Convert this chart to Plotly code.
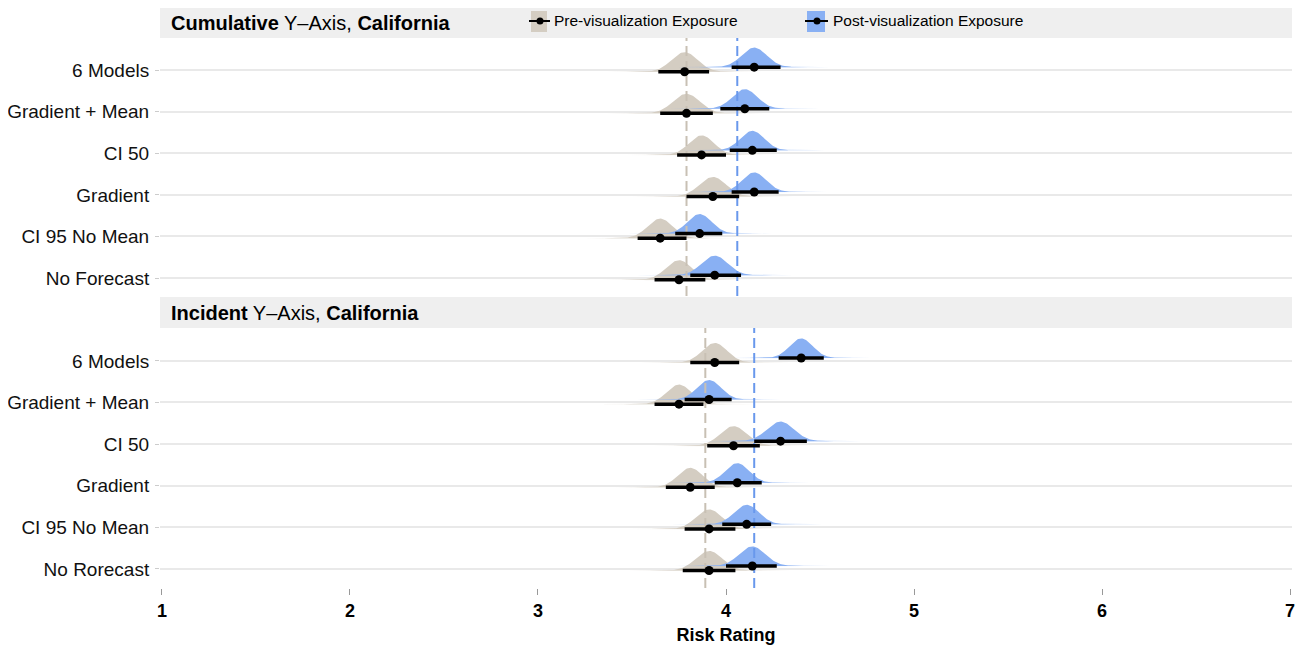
import numpy as np
import plotly.graph_objects as go
from plotly.subplots import make_subplots

# ---------------- data ----------------
conditions_cum = ["6 Models", "Gradient + Mean", "CI 50", "Gradient", "CI 95 No Mean", "No Forecast"]
conditions_inc = ["6 Models", "Gradient + Mean", "CI 50", "Gradient", "CI 95 No Mean", "No Rorecast"]

cum_pre_mean = [3.78, 3.79, 3.87, 3.93, 3.65, 3.75]
cum_pre_lo = [3.64, 3.65, 3.74, 3.79, 3.53, 3.62]
cum_pre_hi = [3.91, 3.93, 4.00, 4.07, 3.79, 3.89]
cum_post_mean = [4.15, 4.10, 4.14, 4.15, 3.86, 3.94]
cum_post_lo = [4.03, 3.97, 4.02, 4.03, 3.73, 3.81]
cum_post_hi = [4.29, 4.23, 4.27, 4.28, 3.98, 4.08]

inc_pre_mean = [3.94, 3.75, 4.04, 3.81, 3.91, 3.91]
inc_pre_lo = [3.81, 3.62, 3.90, 3.68, 3.78, 3.77]
inc_pre_hi = [4.07, 3.88, 4.18, 3.94, 4.05, 4.05]
inc_post_mean = [4.40, 3.91, 4.29, 4.06, 4.11, 4.14]
inc_post_lo = [4.28, 3.78, 4.15, 3.94, 3.98, 4.00]
inc_post_hi = [4.52, 4.03, 4.43, 4.19, 4.24, 4.27]

cum_pre_ref, cum_post_ref = 3.79, 4.06
inc_pre_ref, inc_post_ref = 3.89, 4.15

x_ticks = [1, 2, 3, 4, 5, 6, 7]
groups = ["Pre-visualization Exposure", "Post-visualization Exposure"]

# ---------------- styling ----------------
FONT = "Liberation Sans, Arial, Helvetica, sans-serif"
PRE_FILL = "rgb(212,205,194)"
POST_FILL = "rgb(137,176,243)"
PRE_REF = "rgb(200,192,180)"
POST_REF = "rgb(105,152,236)"
STRIP = "#efefef"
GRID = "#e9e9e9"

OFF = 8  # page body margin offset
W, H = 1300, 642
ML, MR, MT = 152, 16, 0
MB = H - (588 - OFF)
PW, PH = W - ML - MR, H - MT - MB


def px_x(px):
    return (px - OFF - ML) / PW


def px_y(py):
    return (H - MB - (py - OFF)) / PH


fig = make_subplots(rows=2, cols=1, shared_xaxes=True, vertical_spacing=0.0)

panels = [
    (1, conditions_cum, cum_pre_mean, cum_pre_lo, cum_pre_hi,
     cum_post_mean, cum_post_lo, cum_post_hi, cum_pre_ref, cum_post_ref, [0.57, 6.77]),
    (2, conditions_inc, inc_pre_mean, inc_pre_lo, inc_pre_hi,
     inc_post_mean, inc_post_lo, inc_post_hi, inc_pre_ref, inc_post_ref, [0.54, 6.79]),
]

SLAB_H = 0.47
DODGE = {"pre": -0.04, "post": 0.07}

for (row, cats, pm, plo, phi, qm, qlo, qhi, pref, qref, yr) in panels:
    n = len(cats)
    ypos = [n - i for i in range(n)]
    # slabs
    for key, means, los, his, col in [("pre", pm, plo, phi, PRE_FILL), ("post", qm, qlo, qhi, POST_FILL)]:
        for yb, m, lo, hi in zip(ypos, means, los, his):
            sd = (hi - lo) / 3.92
            xs = np.linspace(m - 4.5 * sd, m + 4.5 * sd, 120)
            dens = np.exp(-0.5 * ((xs - m) / sd) ** 2)
            base = yb + DODGE[key]
            # faint halo (fading tails)
            xh = np.linspace(m - 6 * sd, m + 6 * sd, 60)
            fig.add_trace(go.Scatter(
                x=list(xh) + list(xh[::-1]),
                y=list(base + 0.035 * np.exp(-0.5 * ((xh - m) / (2.0 * sd)) ** 2)) +
                  list(base - 0.02 * np.exp(-0.5 * ((xh[::-1] - m) / (2.0 * sd)) ** 2)),
                fill="toself", fillcolor=col, opacity=0.3, mode="lines",
                line=dict(width=0), hoverinfo="skip", showlegend=False), row=row, col=1)
            fig.add_trace(go.Scatter(
                x=list(xs) + [xs[-1], xs[0]],
                y=list(base + SLAB_H * dens) + [base, base],
                fill="toself", fillcolor=col, mode="lines",
                line=dict(width=0, color=col), hoverinfo="skip", showlegend=False),
                row=row, col=1)
    # reference lines
    for ref, col in [(pref, PRE_REF), (qref, POST_REF)]:
        fig.add_trace(go.Scatter(
            x=[ref, ref], y=yr, mode="lines",
            line=dict(color=col, width=2, dash="10px,5px"),
            hoverinfo="skip", showlegend=False), row=row, col=1)
    # point intervals
    for key, means, los, his in [("pre", pm, plo, phi), ("post", qm, qlo, qhi)]:
        for yb, m, lo, hi in zip(ypos, means, los, his):
            base = yb + DODGE[key]
            fig.add_trace(go.Scatter(
                x=[lo, hi], y=[base, base], mode="lines",
                line=dict(color="black", width=3.5),
                hoverinfo="skip", showlegend=False), row=row, col=1)
            fig.add_trace(go.Scatter(
                x=[m], y=[base], mode="markers",
                marker=dict(color="black", size=9),
                hoverinfo="skip", showlegend=False), row=row, col=1)

    yaxis_name = "yaxis" if row == 1 else "yaxis2"
    dom = [px_y(296), px_y(38)] if row == 1 else [0.0, px_y(328)]
    fig.layout[yaxis_name].update(
        domain=dom, range=yr, tickvals=ypos, ticktext=cats,
        showgrid=True, gridcolor=GRID, gridwidth=2, zeroline=False,
        ticks="outside", ticklen=4, tickcolor="#cccccc", ticklabelstandoff=2,
        tickfont=dict(family=FONT, size=19, color="#111111"),
        showline=False, fixedrange=True)

fig.update_xaxes(range=[0.99, 7.01], showgrid=False, zeroline=False, showline=False,
                 tickvals=x_ticks)
fig.layout.xaxis.update(showticklabels=False, ticks="")
fig.layout.xaxis2.update(
    ticks="outside", ticklen=6, tickcolor="#999999", tickwidth=1,
    tickfont=dict(family=FONT, size=18, color="black", weight="bold"),
    title=dict(text="Risk Rating", font=dict(family=FONT, size=18, color="black", weight="bold"),
               standoff=8))

shapes = []
annotations = []
# strips
for (y0, y1, bold1, bold2) in [(px_y(38), px_y(8), "Cumulative", "California"),
                               (px_y(328), px_y(297), "Incident", "California")]:
    shapes.append(dict(type="rect", xref="paper", yref="paper", x0=0, x1=1, y0=y0, y1=y1,
                       fillcolor=STRIP, line=dict(width=0), layer="below"))
    annotations.append(dict(xref="paper", yref="paper", x=px_x(169), y=(y0 + y1) / 2,
                            xanchor="left", yanchor="middle", showarrow=False,
                            text=f"<b>{bold1}</b> Y\u2013Axis, <b>{bold2}</b>",
                            font=dict(family=FONT, size=20, color="black")))

# legend inside top strip
for (kx0, kx1, tx, col, label) in [(531, 547, 552, PRE_FILL, groups[0]),
                                   (807, 825, 831, POST_FILL, groups[1])]:
    shapes.append(dict(type="rect", xref="paper", yref="paper",
                       x0=px_x(kx0), x1=px_x(kx1), y0=px_y(32), y1=px_y(11),
                       fillcolor=col, line=dict(width=0)))
    shapes.append(dict(type="line", xref="paper", yref="paper",
                       x0=px_x(kx0 - 2), x1=px_x(kx1 + 3), y0=px_y(21), y1=px_y(21),
                       line=dict(color="black", width=2)))
    cx = (kx0 + kx1) / 2 + 1
    shapes.append(dict(type="circle", xref="paper", yref="paper",
                       x0=px_x(cx - 3.5), x1=px_x(cx + 3.5), y0=px_y(24.5), y1=px_y(17.5),
                       fillcolor="black", line=dict(width=0)))
    annotations.append(dict(xref="paper", yref="paper", x=px_x(tx), y=px_y(21),
                            xanchor="left", yanchor="middle", showarrow=False,
                            text=label, font=dict(family=FONT, size=15.5, color="black")))

fig.update_layout(
    width=W, height=H, margin=dict(l=ML, r=MR, t=MT, b=MB),
    paper_bgcolor="white", plot_bgcolor="white",
    showlegend=False, shapes=shapes, annotations=annotations,
    font=dict(family=FONT),
)

fig.write_html("out.html")
